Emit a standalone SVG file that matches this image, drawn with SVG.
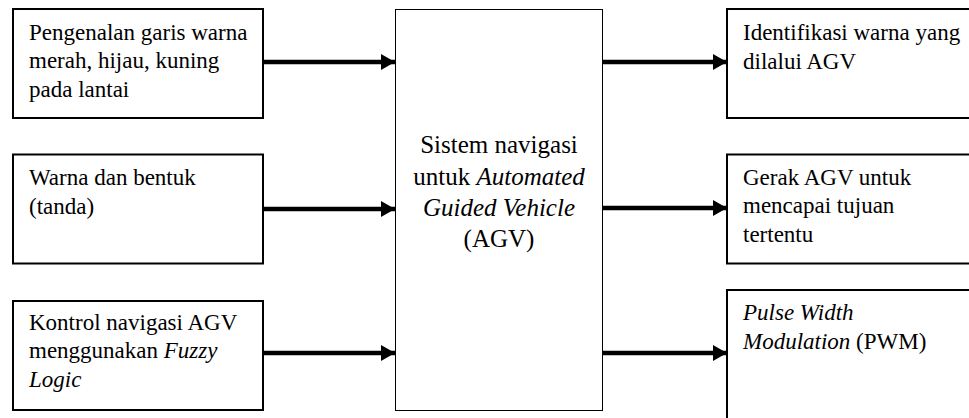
<svg xmlns="http://www.w3.org/2000/svg" width="969" height="418" viewBox="0 0 969 418">
<defs>
<style>
.box{fill:#fff;stroke:#000;stroke-width:2}
.main{fill:#fff;stroke:#000;stroke-width:1}
text{font-family:'Liberation Serif','Times New Roman',Times,serif;fill:#000}
.t{font-size:23px}
.c{font-size:25px;text-anchor:middle}
.i{font-style:italic}
.conn line{stroke:#000;stroke-width:4.5}
</style>
<marker id="ah" markerUnits="userSpaceOnUse" markerWidth="14" markerHeight="16" refX="14" refY="8" orient="auto">
<path d="M0,0 L14,8 L0,16 Z" fill="#000"/>
</marker>
</defs>
<rect width="969" height="418" fill="#fff"/>
<g id="in1">
<rect class="box" x="13" y="9" width="250" height="109"/>
<text class="t" x="29" y="39.5">Pengenalan garis warna</text>
<text class="t" x="29" y="68">merah, hijau, kuning</text>
<text class="t" x="29" y="96.5">pada lantai</text>
</g>
<g id="in2">
<rect class="box" x="13" y="154.5" width="250" height="109"/>
<text class="t" x="29" y="185">Warna dan bentuk</text>
<text class="t" x="29" y="213.5">(tanda)</text>
</g>
<g id="in3">
<rect class="box" x="13" y="301" width="250" height="109"/>
<text class="t" x="29" y="329.5">Kontrol navigasi AGV</text>
<text class="t" x="29" y="358">menggunakan <tspan class="i">Fuzzy</tspan></text>
<text class="t i" x="29" y="386.5">Logic</text>
</g>
<g id="main">
<rect class="main" x="395.5" y="9.5" width="207" height="401"/>
<text class="c" x="499" y="153">Sistem navigasi</text>
<text class="c" x="499" y="184.5">untuk <tspan class="i">Automated</tspan></text>
<text class="c i" x="499" y="215.5">Guided Vehicle</text>
<text class="c" x="499" y="246.5">(AGV)</text>
</g>
<g id="out1">
<rect class="box" x="727" y="9" width="260" height="109"/>
<text class="t" x="743" y="40">Identifikasi warna yang</text>
<text class="t" x="743" y="69">dilalui AGV</text>
</g>
<g id="out2">
<rect class="box" x="727" y="154.5" width="260" height="109"/>
<text class="t" x="743" y="184.5">Gerak AGV untuk</text>
<text class="t" x="743" y="213">mencapai tujuan</text>
<text class="t" x="743" y="241.5">tertentu</text>
</g>
<g id="out3">
<rect class="box" x="727" y="290" width="260" height="140"/>
<text class="t" x="743" y="319.5"><tspan class="i">Pulse Width</tspan></text>
<text class="t" x="743" y="348.5"><tspan class="i">Modulation</tspan> (PWM)</text>
</g>
<g id="connectors" class="conn">
<line x1="263" y1="62" x2="395" y2="62" marker-end="url(#ah)"/>
<line x1="263" y1="209" x2="395" y2="209" marker-end="url(#ah)"/>
<line x1="263" y1="353" x2="395" y2="353" marker-end="url(#ah)"/>
<line x1="603" y1="62" x2="727" y2="62" marker-end="url(#ah)"/>
<line x1="603" y1="208" x2="727" y2="208" marker-end="url(#ah)"/>
<line x1="603" y1="353" x2="727" y2="353" marker-end="url(#ah)"/>
</g>
</svg>
